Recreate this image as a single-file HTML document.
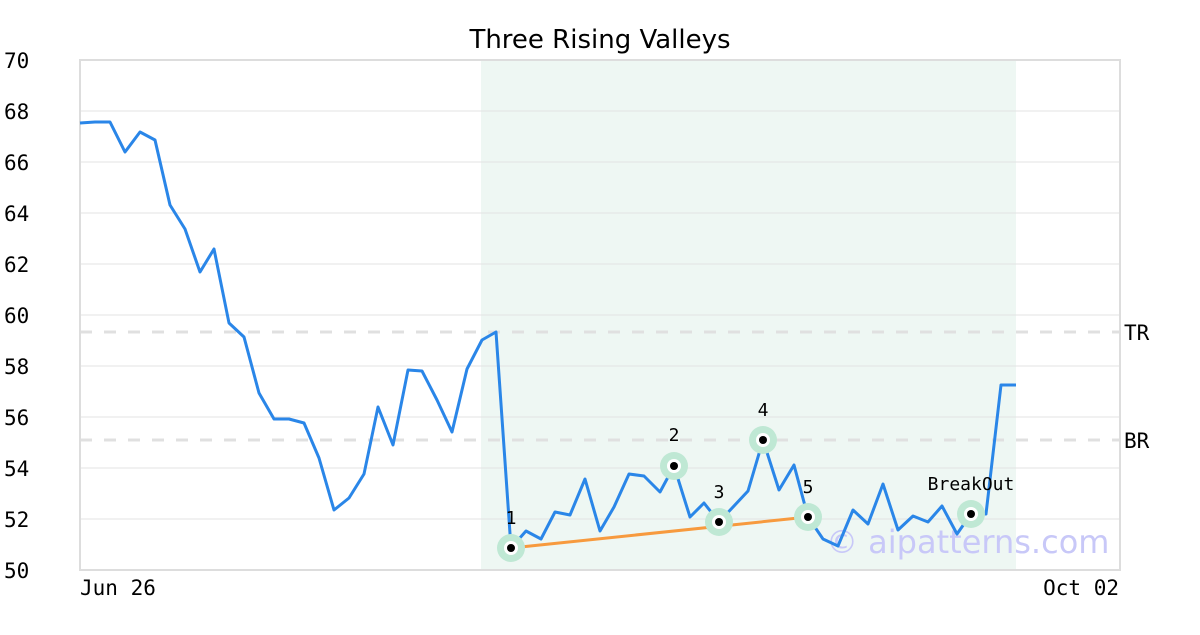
<!DOCTYPE html>
<html><head><meta charset="utf-8"><style>
body{margin:0;background:#fff;}
text{font-family:"DejaVu Sans Mono","Liberation Mono",monospace;}
</style></head><body>
<svg width="1200" height="630" xmlns="http://www.w3.org/2000/svg">
<rect width="1200" height="630" fill="#fff"/>
<rect x="481" y="60" width="535" height="510" fill="#eef7f3"/>
<g stroke="#e3e3e3" stroke-width="1">
<line x1="80" x2="1120" y1="111" y2="111"/><line x1="80" x2="1120" y1="162" y2="162"/>
<line x1="80" x2="1120" y1="213" y2="213"/><line x1="80" x2="1120" y1="264" y2="264"/>
<line x1="80" x2="1120" y1="315" y2="315"/><line x1="80" x2="1120" y1="366" y2="366"/>
<line x1="80" x2="1120" y1="417" y2="417"/><line x1="80" x2="1120" y1="468" y2="468"/>
<line x1="80" x2="1120" y1="519" y2="519"/>
</g>
<g stroke="#e0e0e0" stroke-width="3" stroke-dasharray="12,12">
<line x1="80" x2="1120" y1="332" y2="332"/><line x1="80" x2="1120" y1="440" y2="440"/>
</g>
<rect x="80" y="60" width="1040" height="510" fill="none" stroke="#dddddd" stroke-width="2"/>
<text x="826" y="553" font-size="32" fill="#c8c8f8" style="font-family:'DejaVu Sans',sans-serif">© aipatterns.com</text>
<polyline fill="none" stroke="#2a86e8" stroke-width="3" stroke-linejoin="round" points="80,123 95,122 110,122 125,152 140,132 155,140 170,205 185,229 200,272 214,249 229,323 244,337 259,393 274,419 289,419 304,423 319,458 334,510 349,498 364,474 378,407 393,445 408,370 422,371 437,400 452,432 467,369 482,340 496,332 511,548 526,531 541,539 555,512 570,515 585,479 600,531 614,507 629,474 644,476 660,492 674,466 690,517 704,503 719,522 748,491 763,440 779,490 794,465 808,517 823,539 838,546 853,510 868,524 883,484 898,530 913,516 928,522 942,506 957,534 971,514 986,514 1001,385 1016,385"/>
<line x1="511" y1="548" x2="808" y2="517" stroke="#f79a3e" stroke-width="3"/>
<g fill="#bfe8d4">
<circle cx="511" cy="548" r="14"/><circle cx="674" cy="466" r="14"/><circle cx="719" cy="522" r="14"/>
<circle cx="763" cy="440" r="14"/><circle cx="808" cy="517" r="14"/><circle cx="971" cy="514" r="14"/>
</g>
<g fill="#fff">
<circle cx="511" cy="548" r="7"/><circle cx="674" cy="466" r="7"/><circle cx="719" cy="522" r="7"/>
<circle cx="763" cy="440" r="7"/><circle cx="808" cy="517" r="7"/><circle cx="971" cy="514" r="7"/>
</g>
<g fill="#000">
<circle cx="511" cy="548" r="4"/><circle cx="674" cy="466" r="4"/><circle cx="719" cy="522" r="4"/>
<circle cx="763" cy="440" r="4"/><circle cx="808" cy="517" r="4"/><circle cx="971" cy="514" r="4"/>
</g>
<g font-size="18" fill="#000" text-anchor="middle">
<text x="511" y="524">1</text><text x="674" y="441">2</text><text x="719" y="498">3</text>
<text x="763" y="416">4</text><text x="808" y="493">5</text><text x="971" y="490">BreakOut</text>
</g>
<g font-size="21" fill="#000">
<text x="4" y="68">70</text><text x="4" y="119">68</text><text x="4" y="170">66</text>
<text x="4" y="221">64</text><text x="4" y="272">62</text><text x="4" y="323">60</text>
<text x="4" y="374">58</text><text x="4" y="425">56</text><text x="4" y="476">54</text>
<text x="4" y="527">52</text><text x="4" y="578">50</text>
<text x="1124" y="340">TR</text><text x="1124" y="448">BR</text>
<text x="80" y="595">Jun 26</text><text x="1119" y="595" text-anchor="end">Oct 02</text>
</g>
<text x="600" y="48" font-size="26" text-anchor="middle" style="font-family:'DejaVu Sans',sans-serif">Three Rising Valleys</text>
</svg>
</body></html>
